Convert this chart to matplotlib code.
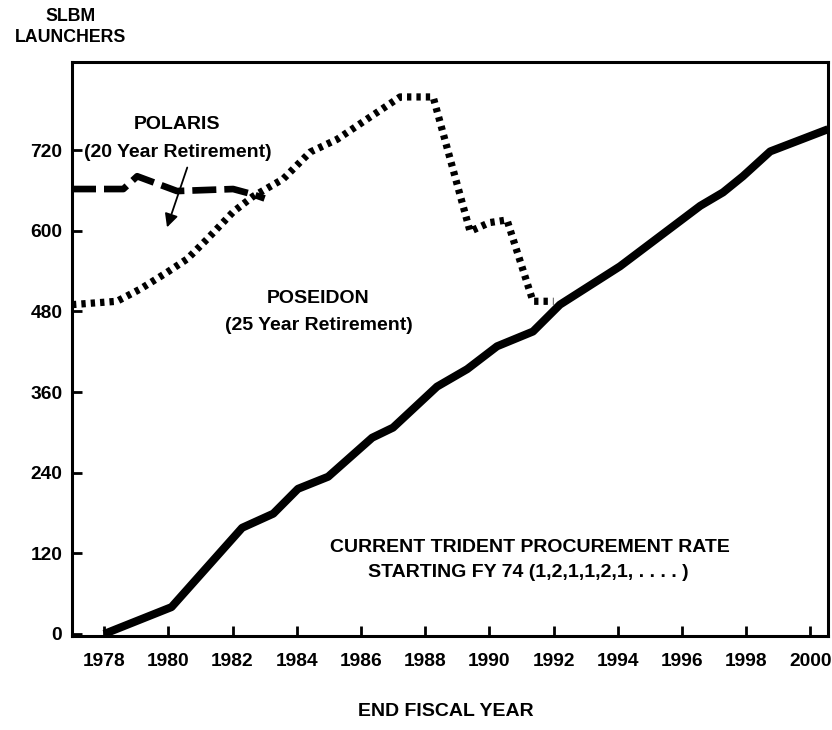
import matplotlib
matplotlib.use("Agg")
import matplotlib.pyplot as plt

# ---- data ----
trident_years = [1978.0, 1980.1, 1982.3, 1983.27, 1984.04, 1984.98, 1986.35, 1987.0,
                 1988.37, 1989.31, 1990.24, 1991.36, 1992.2, 1994.07, 1995.32,
                 1996.57, 1997.28, 1997.9, 1998.75, 2000.55]
trident_vals = [0, 40, 158, 179, 216, 234, 292, 307, 368, 394, 428, 450, 490, 547,
                592, 637, 657, 681, 718, 751]

poseidon_years = [1977.0, 1978.4, 1979.12, 1979.96, 1980.59, 1981.2, 1982.02, 1982.64,
                  1983.58, 1984.42, 1985.26, 1986.19, 1987.22, 1988.25, 1989.4,
                  1990.0, 1990.55, 1991.36, 1992.0]
poseidon_vals = [490, 495, 513, 538, 558, 587, 628, 651, 677, 717, 736, 766, 799, 799,
                 599, 612, 616, 495, 495]

polaris_years = [1977.0, 1978.6, 1979.03, 1980.27, 1982.02, 1982.64, 1983.0]
polaris_vals = [662, 662, 681, 659, 662, 654, 648]

arrow_start = (1980.59, 694)
arrow_end = (1979.96, 605)

x_ticks = [1978, 1980, 1982, 1984, 1986, 1988, 1990, 1992, 1994, 1996, 1998, 2000]
y_ticks = [0, 120, 240, 360, 480, 600, 720]

FONT = "Liberation Sans"
FS = 14

fig = plt.figure(figsize=(8.32, 7.30), dpi=100)
ax = fig.add_axes([72 / 832, 1 - 636 / 730, (828 - 72) / 832, (636 - 62) / 730])

ax.plot(trident_years, trident_vals, color="black", lw=5.8,
        solid_joinstyle="round", solid_capstyle="butt")
ax.plot(poseidon_years, poseidon_vals, color="black", lw=5.2,
        linestyle=(0, (0.6, 0.7)), dash_capstyle="butt")
ax.plot(polaris_years, polaris_vals, color="black", lw=4.8,
        linestyle=(0, (3.6, 1.2)), dash_capstyle="butt")

ax.annotate("", xy=arrow_end, xytext=arrow_start,
            arrowprops=dict(arrowstyle="-|>", color="black", lw=1.3,
                            mutation_scale=20, shrinkA=0, shrinkB=0))

ax.set_xlim(1977.0, 2000.55)
ax.set_ylim(-3, 851)
ax.set_xticks(x_ticks)
ax.set_yticks(y_ticks)
ax.set_xticklabels([str(v) for v in x_ticks], fontsize=13.8, fontweight="bold", family=FONT)
ax.set_yticklabels([str(v) for v in y_ticks], fontsize=13.8, fontweight="bold", family=FONT)
ax.tick_params(axis="both", direction="in", length=7, width=2, color="black")
ax.tick_params(axis="x", pad=12)
ax.tick_params(axis="y", pad=7)
for s in ax.spines.values():
    s.set_linewidth(2.2)
    s.set_color("black")

tk = dict(fontsize=FS, fontweight="bold", family=FONT, ha="center", va="center")
ax.text(1980.27, 758, "POLARIS", **tk)
ax.text(1980.3, 716, "(20 Year Retirement)", **tk)
ax.text(1984.67, 499, "POSEIDON", **tk)
ax.text(1984.7, 459, "(25 Year Retirement)", **tk)
ax.text(1991.27, 128, "CURRENT TRIDENT PROCUREMENT RATE", **tk)
ax.text(1991.2, 91, "STARTING FY 74 (1,2,1,1,2,1, . . . . )", **tk)

fig.text(71 / 832, 1 - 27 / 730, "SLBM\nLAUNCHERS", fontsize=12.8, fontweight="bold",
         family=FONT, ha="center", va="center", linespacing=1.25)
fig.text(446 / 832, 1 - 712 / 730, "END FISCAL YEAR", fontsize=FS, fontweight="bold",
         family=FONT, ha="center", va="center")

fig.savefig("out.png", dpi=100, facecolor="white")
